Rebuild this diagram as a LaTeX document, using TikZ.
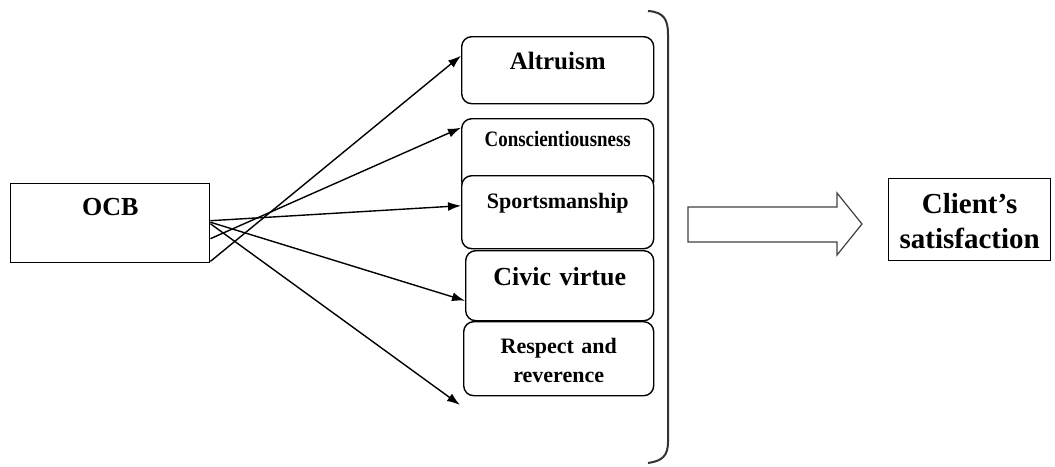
\documentclass[tikz,border=0pt]{standalone}
\usepackage{fontspec}
\setmainfont{Liberation Serif}
\usepackage{graphicx}
\usepackage{tikz}
\usetikzlibrary{arrows.meta,positioning,calc}

\begin{document}
\begin{tikzpicture}
[x=0.5pt, y=-0.5pt,
every node/.style={inner sep=0pt, align=center, anchor=north west},
dimbox/.style={draw, fill=white, rounded corners=5pt, line width=0.7pt, text width=96pt},
plainbox/.style={draw, fill=white, line width=0.7pt},
link/.style={draw, -{Latex[length=6.5pt,width=4.5pt]}, line width=0.7pt}]
\useasboundingbox (0,0) rectangle (1055,466);

\node[plainbox, text width=99.5pt, text height=16pt, text depth=23.5pt,
  font=\fontsize{13}{15}\selectfont\bfseries] (ocb) at (10,183) {OCB};

\node[dimbox, text height=16.5pt, text depth=17pt,
  font=\fontsize{12.5}{15}\selectfont\bfseries] (alt) at (461,36) {Altruism};
\node[dimbox, text height=14pt, text depth=22pt,
  font=\fontsize{11}{13}\selectfont\bfseries] (consc) at (461,118) {\scalebox{0.86}[1]{Conscientiousness}};
\node[dimbox, text height=16.5pt, text depth=20pt,
  font=\fontsize{11}{13}\selectfont\bfseries] (sport) at (461,175) {Sportsmanship};
\node[dimbox, text width=94pt, text height=17.5pt, text depth=17.5pt,
  font=\fontsize{13}{15}\selectfont\bfseries] (civic) at (465,250) {Civic virtue};
\node[dimbox, text width=95pt, text height=16pt, text depth=21pt,
  font=\fontsize{11}{14.5}\selectfont\bfseries] (resp) at (463,321) {Respect and\\reverence};

\node[plainbox, text width=81pt, text height=17.5pt, text depth=23.5pt,
  font=\fontsize{14.5}{17.5}\selectfont\bfseries] (client) at (888,178) {Client’s\\satisfaction};

% arrows out of OCB
\coordinate (resp tip) at (460,405);
\draw[link] ([yshift=1pt]ocb.south east) -- ([yshift=7.25pt]alt.west);
\draw[link] ([yshift=-7.75pt]ocb.east) -- ([yshift=13.5pt]consc.west);
\draw[link] ([yshift=1.25pt]ocb.east) -- ([yshift=3.25pt]sport.west);
\draw[link] ([yshift=0.5pt]ocb.east) -- ([yshift=-7.5pt]civic.west);
\draw[link] ([yshift=-0.25pt]ocb.east) -- (resp tip);

% bracket and hollow arrow
\draw[line width=1pt, black!80] (648,11) .. controls (664,12) and (668,20) .. (668,34)
  -- (668,442) .. controls (668,456) and (662,461) .. (648,463);
\draw[line width=0.6pt, black!75] (688,207) -- (837,207) -- (837,193) -- (862,224)
  -- (837,255) -- (837,242) -- (688,242) -- cycle;
\end{tikzpicture}
\end{document}
